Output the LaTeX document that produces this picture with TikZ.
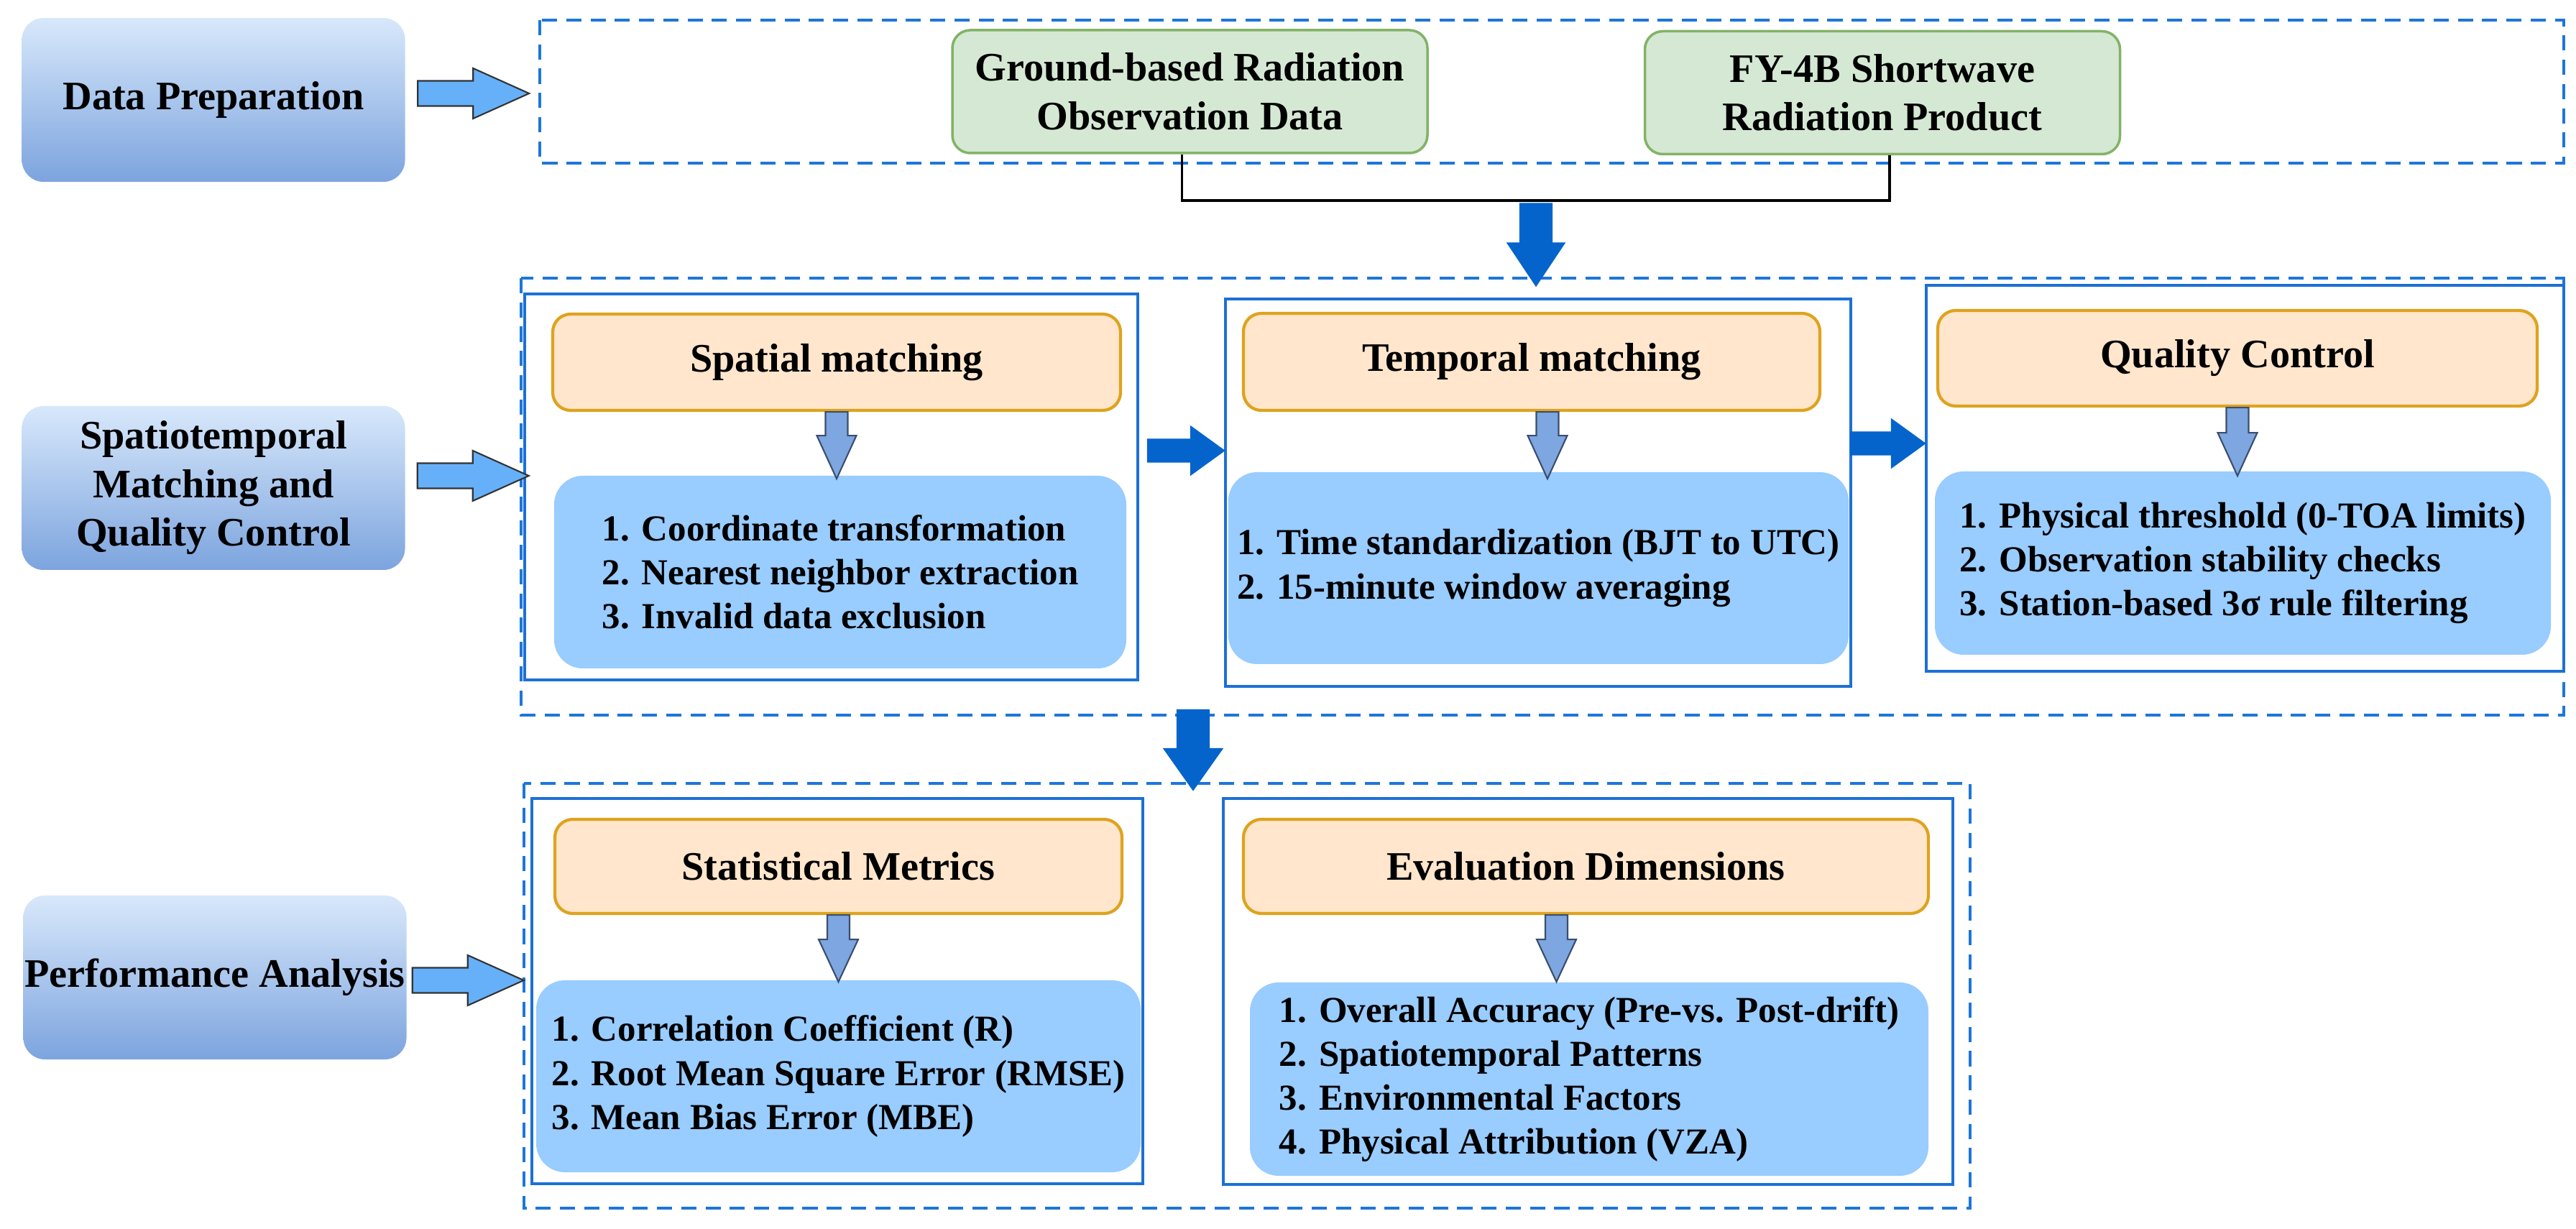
\documentclass[tikz,border=0pt]{standalone}
\usepackage{fontspec}
\setmainfont{Liberation Serif}
\usepackage{xcolor}
\usetikzlibrary{calc}

\definecolor{dashBlue}{RGB}{30,118,218}
\definecolor{solidBlue}{RGB}{28,112,214}
\definecolor{lbTop}{RGB}{216,232,251}
\definecolor{lbBot}{RGB}{124,164,222}
\definecolor{grFill}{RGB}{213,232,212}
\definecolor{grDraw}{RGB}{130,179,102}
\definecolor{hdFill}{RGB}{255,230,204}
\definecolor{hdDraw}{RGB}{222,163,30}
\definecolor{listFill}{RGB}{153,204,255}
\definecolor{bigArr}{RGB}{102,176,250}
\definecolor{darkArr}{RGB}{4,100,204}
\definecolor{smArr}{RGB}{126,166,224}
\definecolor{smArrEdge}{RGB}{58,78,110}

\tikzset{
  lblbox/.style={rounded corners=0.3cm, top color=lbTop, bottom color=lbBot, draw=none,
    minimum width=5.33cm, minimum height=2.28cm, inner sep=0pt, align=center,
    font=\fontsize{16}{19.2}\selectfont\bfseries},
  srcbox/.style={rounded corners=0.25cm, fill=grFill, draw=grDraw, line width=1pt,
    minimum width=6.61cm, minimum height=1.71cm, inner sep=0pt, align=center,
    font=\fontsize{16}{19.2}\selectfont\bfseries},
  grpframe/.style={draw=dashBlue, line width=1.1pt, dash pattern=on 6pt off 3.6pt},
  stageframe/.style={draw=solidBlue, line width=1.4pt, fill=white, inner sep=0pt},
  hdbox/.style={rounded corners=0.25cm, fill=hdFill, draw=hdDraw, line width=1.2pt,
    inner sep=0pt, font=\fontsize{16}{19.2}\selectfont\bfseries},
  listbox/.style={rounded corners=0.4cm, fill=listFill, draw=none, inner sep=0pt,
    align=left, font=\fontsize{14.5}{17.4}\selectfont\bfseries},
  bigarr/.style={fill=bigArr, draw=black!80, line width=0.6pt},
  darkarr/.style={fill=darkArr, draw=darkArr, line width=0.4pt},
  smallarr/.style={fill=smArr, draw=smArrEdge, line width=0.6pt},
  conn/.style={draw=black, line width=1.1pt}
}

% block arrows: style, start, length, half shaft, half head, head length
\newcommand{\rblock}[6]{\draw[#1] (#2) ++(0,#4) -- ++({#3-#6},0) -- ++(0,{#5-#4})
  -- ++(#6,-#5) -- ++(-#6,-#5) -- ++(0,{#5-#4}) -- ++({-(#3-#6)},0) -- cycle;}
\newcommand{\dblock}[6]{\draw[#1] (#2) ++(-#4,0) -- ++(0,{-(#3-#6)}) -- ++({-(#5-#4)},0)
  -- ++(#5,-#6) -- ++(#5,#6) -- ++({-(#5-#4)},0) -- ++(0,{#3-#6}) -- cycle;}

\begin{document}
\begin{tikzpicture}
\useasboundingbox (0,0) rectangle (35.84,-17.10);
\fill[white] (0,0) rectangle (35.84,-17.10);

\node[lblbox] (dp) at (2.97,-1.39) {Data Preparation};
\node[lblbox] (stqc) at (2.97,-6.79) {Spatiotemporal\\Matching and\\Quality Control};
\node[lblbox] (pa) at (2.99,-13.60) {Performance Analysis};

\draw[grpframe] (7.51,-0.28) rectangle (35.67,-2.27);
\draw[grpframe] (7.25,-3.87) rectangle (35.67,-9.95);
\draw[grpframe] (7.29,-10.90) rectangle (27.41,-16.81);

\node[srcbox] (gr) at (16.555,-1.275) {Ground-based Radiation\\Observation Data};
\node[srcbox] (fy) at (26.19,-1.29) {FY-4B Shortwave\\Radiation Product};
\draw[conn] ([xshift=-0.11cm]gr.south) -- ++(0,-0.64) -| ([xshift=0.1cm]fy.south);
\coordinate (j1) at (21.37,-2.83);

\node[stageframe, minimum width=8.53cm, minimum height=5.37cm] (spbox) at (11.565,-6.775) {};
\node[stageframe, minimum width=8.70cm, minimum height=5.39cm] (tmbox) at (21.40,-6.855) {};
\node[stageframe, minimum width=8.87cm, minimum height=5.37cm] (qcbox) at (31.235,-6.655) {};
\node[stageframe, minimum width=8.50cm, minimum height=5.36cm] (stbox) at (11.65,-13.79) {};
\node[stageframe, minimum width=10.15cm, minimum height=5.37cm] (evbox) at (22.095,-13.795) {};

\node[hdbox, minimum width=7.90cm, minimum height=1.34cm] (sphd) at (11.64,-5.04) {Spatial matching};
\node[hdbox, minimum width=8.02cm, minimum height=1.35cm] (tmhd) at (21.31,-5.035) {Temporal matching};
\node[hdbox, minimum width=8.34cm, minimum height=1.33cm] (qchd) at (31.13,-4.985) {Quality Control};
\node[hdbox, minimum width=7.89cm, minimum height=1.31cm] (sthd) at (11.665,-12.055) {Statistical Metrics};
\node[hdbox, minimum width=9.53cm, minimum height=1.31cm] (evhd) at (22.065,-12.055) {Evaluation Dimensions};

\node[listbox, minimum width=7.96cm, minimum height=2.68cm] (spls) at (11.69,-7.96)
  {1. Coordinate transformation\\2. Nearest neighbor extraction\\3. Invalid data exclusion};
\node[listbox, minimum width=8.63cm, minimum height=2.67cm] (tmls) at (21.405,-7.905)
  {1. Time standardization (BJT to UTC)\\2. 15-minute window averaging};
\node[listbox, minimum width=8.57cm, minimum height=2.55cm] (qcls) at (31.205,-7.835)
  {1. Physical threshold (0-TOA limits)\\2. Observation stability checks\\3. Station-based 3σ rule filtering};
\node[listbox, minimum width=8.41cm, minimum height=2.67cm] (stls) at (11.665,-14.975)
  {1. Correlation Coefficient (R)\\2. Root Mean Square Error (RMSE)\\3. Mean Bias Error (MBE)};
\node[listbox, minimum width=9.44cm, minimum height=2.69cm] (evls) at (22.11,-15.015)
  {1. Overall Accuracy (Pre-vs. Post-drift)\\2. Spatiotemporal Patterns\\3. Environmental Factors\\4. Physical Attribution (VZA)};

\rblock{bigarr}{$(dp.east)+(0.17,0.09)$}{1.55}{0.175}{0.35}{0.78}
\rblock{bigarr}{$(stqc.east)+(0.165,0.17)$}{1.55}{0.175}{0.35}{0.78}
\rblock{bigarr}{$(pa.east)+(0.075,-0.04)$}{1.55}{0.175}{0.35}{0.78}

\dblock{darkarr}{j1}{1.15}{0.225}{0.40}{0.60}
\rblock{darkarr}{$(spbox.east)+(0.11,0.505)$}{1.07}{0.16}{0.34}{0.47}
\rblock{darkarr}{$(tmbox.east)+(-0.03,0.685)$}{1.04}{0.16}{0.34}{0.47}
\dblock{darkarr}{$(spbox.south)+(5.035,-0.39)$}{1.12}{0.225}{0.41}{0.58}

\dblock{smallarr}{sphd.south}{0.93}{0.155}{0.275}{0.60}
\dblock{smallarr}{[xshift=0.22cm]tmhd.south}{0.93}{0.155}{0.275}{0.60}
\dblock{smallarr}{qchd.south}{0.95}{0.155}{0.275}{0.60}
\dblock{smallarr}{sthd.south}{0.93}{0.155}{0.275}{0.59}
\dblock{smallarr}{[xshift=-0.41cm]evhd.south}{0.93}{0.155}{0.275}{0.59}
\end{tikzpicture}
\end{document}
